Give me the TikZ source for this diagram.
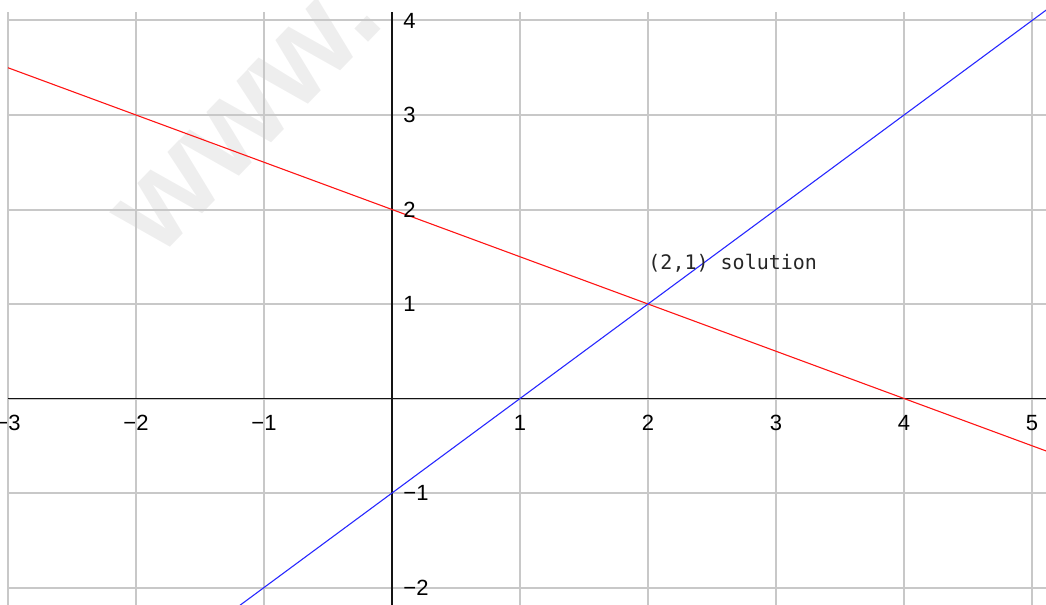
\documentclass[tikz,border=0pt]{standalone}
\usepackage{fontspec}
\setmainfont{Liberation Sans}
\newfontfamily\grmono{DejaVu Sans Mono}
\definecolor{GrGrid}{RGB}{200,200,200}
\definecolor{GrAxis}{RGB}{20,20,20}
\definecolor{GrRed}{RGB}{255,20,20}
\definecolor{GrBlue}{RGB}{40,40,255}
\definecolor{GrMark}{RGB}{238,238,238}
\tikzset{
  gr/grid/.style={draw=GrGrid, line width=1pt},
  gr/axis/.style={draw=GrAxis, line width=0.9pt},
  gr/redline/.style={draw=GrRed, line width=0.55pt},
  gr/blueline/.style={draw=GrBlue, line width=0.55pt},
  gr/xtick/.style={
    font=\fontsize{11}{13}\selectfont,
    text=black,
    inner sep=0pt,
    anchor=center
  },
  gr/ytick/.style={
    font=\fontsize{11}{13}\selectfont,
    text=black,
    inner sep=0pt,
    anchor=west
  },
  gr/note/.style={
    font=\grmono\fontsize{10}{12}\selectfont,
    text=black!85,
    inner sep=0pt,
    anchor=base west
  },
  gr/mark/.style={
    font=\bfseries\fontsize{64}{64}\selectfont,
    text=GrMark,
    rotate=46,
    inner sep=0pt
  }
}

\begin{document}
\begin{tikzpicture}[x=64pt,y=47.25pt]
  \clip (-3.0625,-2.175) rectangle (5.109,4.217);
  \node[gr/mark] (mark) at (-1.12,2.97) {www.};
  \draw[gr/grid,xstep=1,ystep=1] (-3,-2.2) grid (5.2,4.09);
  \coordinate (xaxisL) at (-3,0);
  \coordinate (xaxisR) at (5.2,0);
  \coordinate (yaxisB) at (0,-2.2);
  \coordinate (yaxisT) at (0,4.09);
  \draw[gr/axis] (xaxisL) -- (xaxisR);
  \draw[gr/axis] (yaxisB) -- (yaxisT);
  \coordinate (redL) at (-3,3.5);
  \coordinate (redR) at (5.2,-0.6);
  \coordinate (blueL) at (-1.2,-2.2);
  \coordinate (blueR) at (5.2,4.2);
  \draw[gr/redline] (redL) -- (redR);
  \draw[gr/blueline] (blueL) -- (blueR);
  \node[gr/xtick] (xlabm3) at (-3,-0.26) {−3};
  \node[gr/xtick] (xlabm2) at (-2,-0.26) {−2};
  \node[gr/xtick] (xlabm1) at (-1,-0.26) {−1};
  \node[gr/xtick] (xlab1) at (1,-0.26) {1};
  \node[gr/xtick] (xlab2) at (2,-0.26) {2};
  \node[gr/xtick] (xlab3) at (3,-0.26) {3};
  \node[gr/xtick] (xlab4) at (4,-0.26) {4};
  \node[gr/xtick] (xlab5) at (5,-0.26) {5};
  \node[gr/ytick] (ylab4) at (0.086,4) {4};
  \node[gr/ytick] (ylab3) at (0.086,3) {3};
  \node[gr/ytick] (ylab2) at (0.086,2) {2};
  \node[gr/ytick] (ylab1) at (0.086,1) {1};
  \node[gr/ytick] (ylabm1) at (0.086,-1) {−1};
  \node[gr/ytick] (ylabm2) at (0.086,-2) {−2};
  \node[gr/note] (solution) at (2,1.36) {(2,1) solution};
\end{tikzpicture}
\end{document}
